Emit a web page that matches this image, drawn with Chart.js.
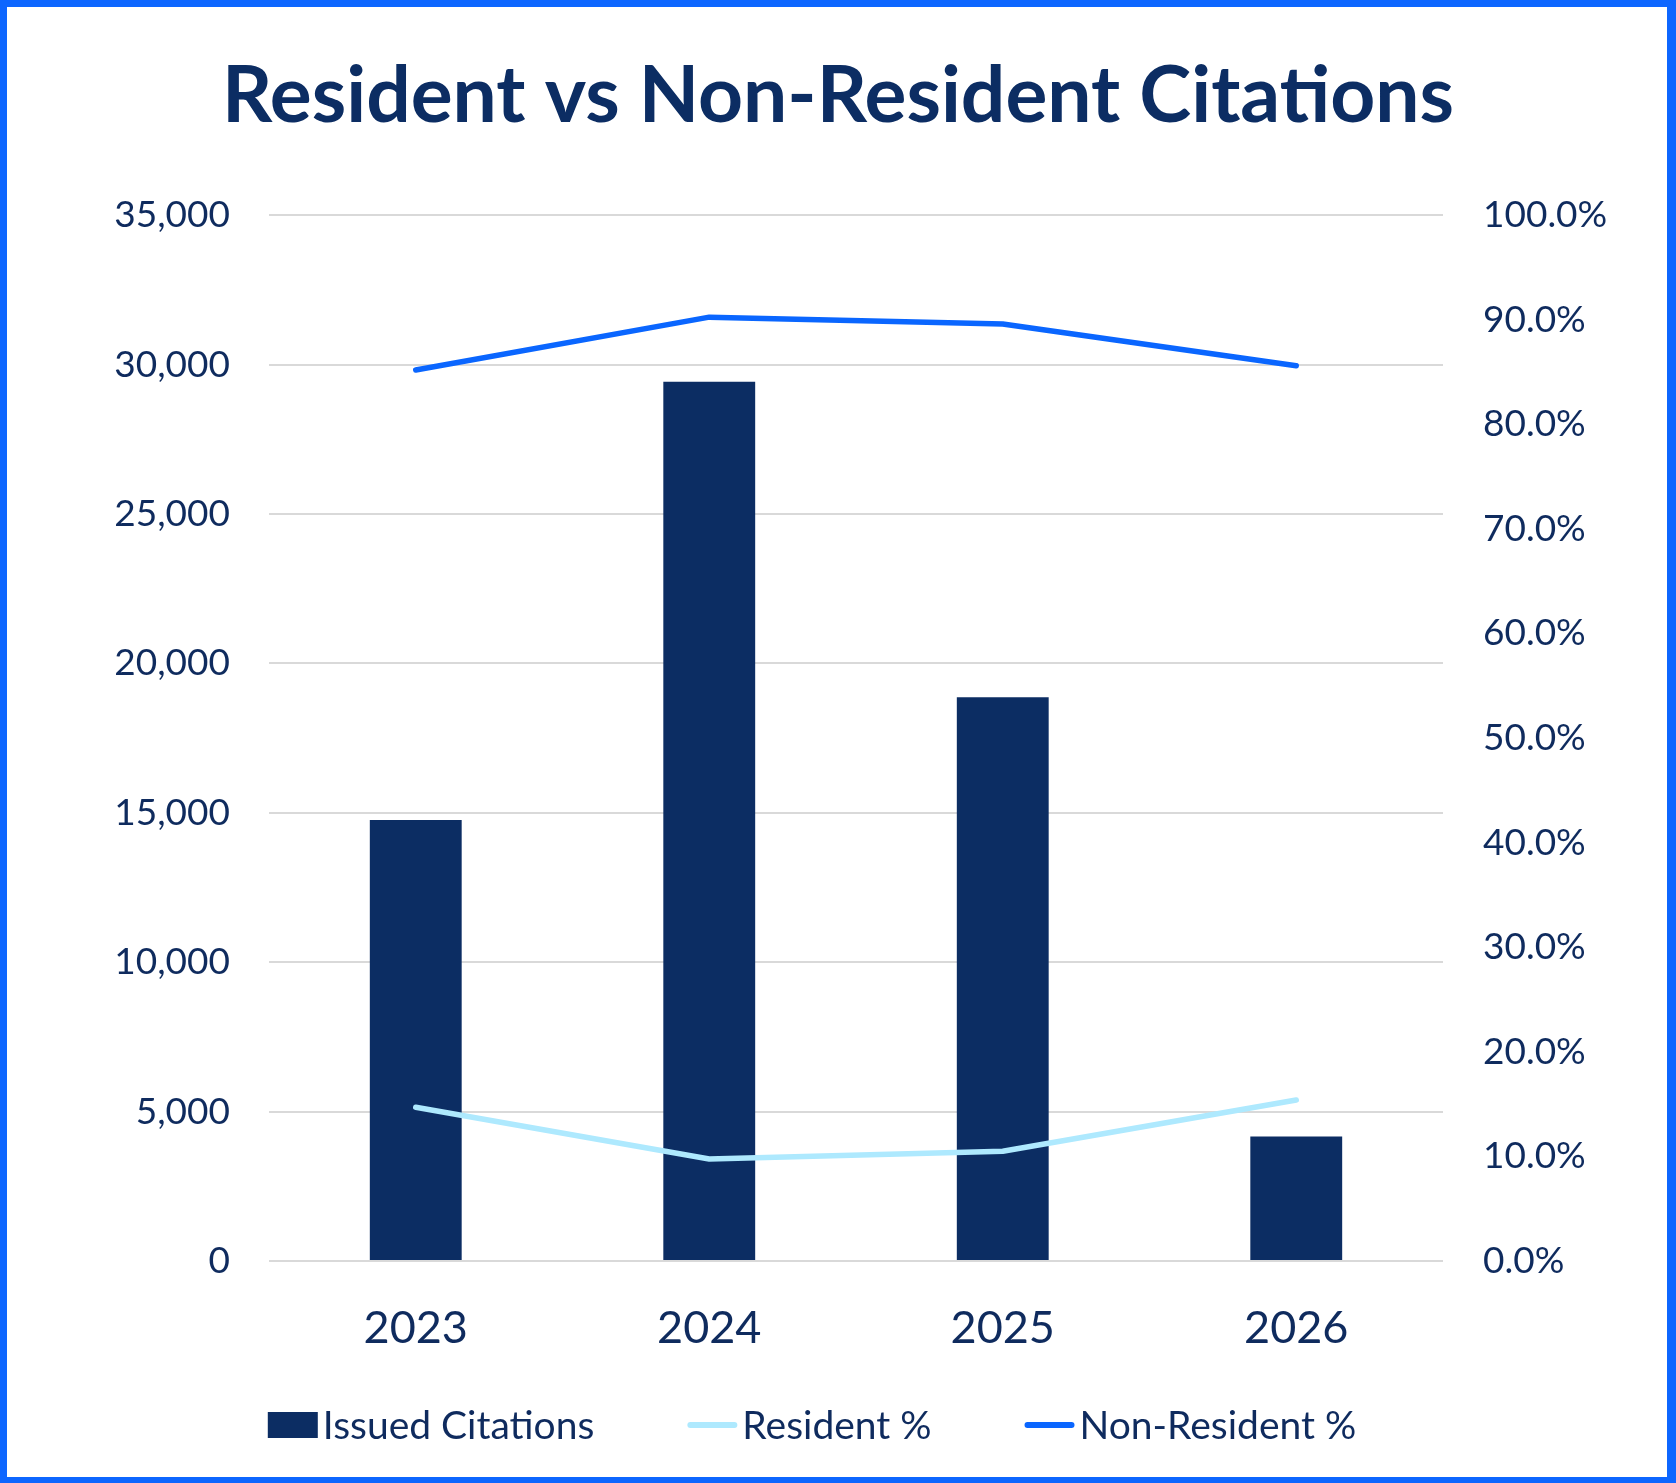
<!DOCTYPE html>
<html>
<head>
<meta charset="utf-8">
<script src="https://cdn.jsdelivr.net/npm/chart.js@4/dist/chart.umd.min.js"></script>
<style>
  html, body { margin: 0; padding: 0; background: #ffffff; }
  #wrap { position: relative; width: 1676px; height: 1483px; overflow: hidden; background: #fff; }
  #c { position: absolute; left: 0; top: 0; }
  #frame { position: absolute; left: 0; top: 0; width: 1676px; height: 1483px; box-sizing: border-box;
           border-style: solid; border-color: #0d66ff; border-width: 7px 9px 6px 7px; pointer-events: none; }
</style>
</head>
<body>
<div id="wrap">
  <canvas id="c" width="1676" height="1483"></canvas>
  <div id="frame"></div>
</div>
<script>
const categories = ['2023', '2024', '2025', '2026'];
const issuedCitations = [14760, 29430, 18870, 4170];
const residentPct = [0.147, 0.0975, 0.105, 0.154];
const nonResidentPct = [0.852, 0.9025, 0.896, 0.856];
const leftTicks = [0, 5000, 10000, 15000, 20000, 25000, 30000, 35000];
const rightTicks = [0, 0.1, 0.2, 0.3, 0.4, 0.5, 0.6, 0.7, 0.8, 0.9, 1.0];

const NAVY = '#0c2d63';
const TEXT = '#0f2b5e';
const LIGHT = '#aee9fe';
const BLUE = '#0a66ff';
const FONT = 'Lato, "Open Sans", sans-serif';

const legendPlugin = {
  id: 'customLegend',
  afterDraw(chart) {
    const ctx = chart.ctx;
    const ds = chart.data.datasets;
    const fontSize = 39;
    ctx.save();
    ctx.font = fontSize + 'px ' + FONT;
    ctx.textBaseline = 'middle';
    ctx.textAlign = 'left';
    const symW = 50, symGap = 5, itemGap = 93;
    const widths = ds.map(d => ctx.measureText(d.label).width);
    let total = 0;
    widths.forEach((w, i) => { total += symW + symGap + w + (i < ds.length - 1 ? itemGap : 0); });
    const cy = 1425;
    let x = 812 - total / 2;
    ds.forEach((d, i) => {
      if (d.type === 'bar') {
        ctx.fillStyle = d.backgroundColor;
        ctx.fillRect(x, cy - 13, symW, 26);
      } else {
        ctx.strokeStyle = d.borderColor;
        ctx.lineWidth = 6;
        ctx.lineCap = 'round';
        ctx.beginPath();
        ctx.moveTo(x + 3, cy);
        ctx.lineTo(x + symW - 3, cy);
        ctx.stroke();
      }
      ctx.fillStyle = TEXT;
      ctx.fillText(d.label, x + symW + symGap, cy + 1);
      x += symW + symGap + widths[i] + itemGap;
    });
    ctx.restore();
  }
};

new Chart(document.getElementById('c'), {
  data: {
    labels: categories,
    datasets: [
      {
        type: 'bar', label: 'Issued Citations', data: issuedCitations, yAxisID: 'y',
        backgroundColor: NAVY, borderWidth: 0, barPercentage: 0.313, categoryPercentage: 1.0, order: 3
      },
      {
        type: 'line', label: 'Resident %', data: residentPct, yAxisID: 'y1',
        borderColor: LIGHT, backgroundColor: LIGHT, borderWidth: 5.5, pointRadius: 0, tension: 0,
        borderCapStyle: 'round', borderJoinStyle: 'round', fill: false, order: 2
      },
      {
        type: 'line', label: 'Non-Resident %', data: nonResidentPct, yAxisID: 'y1',
        borderColor: BLUE, backgroundColor: BLUE, borderWidth: 5.5, pointRadius: 0, tension: 0,
        borderCapStyle: 'round', borderJoinStyle: 'round', fill: false, order: 1
      }
    ]
  },
  options: {
    responsive: false,
    animation: false,
    devicePixelRatio: 1,
    layout: { padding: { left: 0, right: 0, top: 0, bottom: 0 } },
    plugins: {
      legend: { display: false },
      tooltip: { enabled: false },
      title: {
        display: true,
        text: 'Resident vs Non-Resident Citations',
        color: NAVY,
        font: { family: FONT, size: 78.5, weight: 'bold', lineHeight: 1.2 },
        padding: { top: 50, bottom: 71 }
      }
    },
    scales: {
      x: {
        type: 'category',
        offset: true,
        grid: { display: false, drawTicks: false },
        border: { display: false },
        ticks: { color: TEXT, font: { family: FONT, size: 45 }, padding: 40 },
        afterFit(scale) { scale.height = 222; }
      },
      y: {
        type: 'linear', position: 'left', min: 0, max: 35000,
        afterBuildTicks(scale) { scale.ticks = leftTicks.map(v => ({ value: v })); },
        grid: { color: '#d9d9d9', lineWidth: 2, drawTicks: false },
        border: { display: false },
        ticks: {
          color: TEXT, font: { family: FONT, size: 37 }, padding: 39,
          callback: v => v.toLocaleString('en-US')
        },
        afterFit(scale) { scale.width = 269; }
      },
      y1: {
        type: 'linear', position: 'right', min: 0, max: 1,
        afterBuildTicks(scale) { scale.ticks = rightTicks.map(v => ({ value: v })); },
        grid: { display: false, drawTicks: false },
        border: { display: false },
        ticks: {
          color: TEXT, font: { family: FONT, size: 37 }, padding: 40,
          callback: v => (v * 100).toFixed(1) + '%'
        },
        afterFit(scale) { scale.width = 233; }
      }
    }
  },
  plugins: [legendPlugin]
});
</script>
</body>
</html>
